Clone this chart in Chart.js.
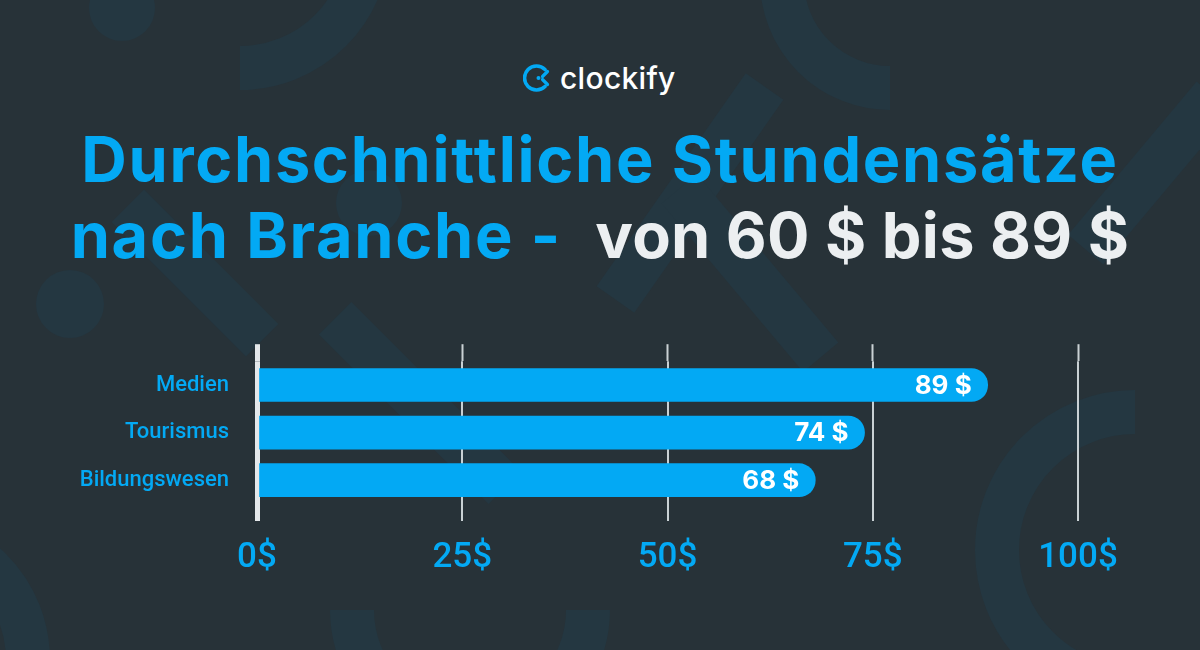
<!DOCTYPE html>
<html lang="de">
<head>
<meta charset="utf-8">
<title>Durchschnittliche Stundensätze nach Branche</title>
<script src="https://cdn.jsdelivr.net/npm/chart.js@4/dist/chart.umd.min.js"></script>
<style>
  html, body { margin: 0; padding: 0; }
  body {
    width: 1200px; height: 650px; overflow: hidden; position: relative;
    background: #273238; font-family: Inter, "Noto Sans", sans-serif;
  }
  .deco { position: absolute; background: #243741; }
  .ring { position: absolute; border: 44px solid #243741; border-radius: 50%; box-sizing: border-box; }
  .logo {
    position: absolute; left: 523px; top: 58px; height: 40px;
    display: flex; align-items: center; gap: 7px;
    color: #ffffff; font-size: 30px; font-weight: 500; letter-spacing: 0.3px;
  }
  .title {
    position: absolute; left: 0; width: 1200px; text-align: center;
    font-weight: 700; font-size: 63px; line-height: 76px; color: #03a9f4;
    top: 121px; letter-spacing: 1.7px;
  }
  .title .light { color: #eceff1; letter-spacing: 0.3px; }
  #wrap { position: absolute; left: 0; top: 320px; width: 1200px; height: 330px; }
</style>
</head>
<body>
<!-- background shapes -->
<div class="deco" style="left:89px;top:-25px;width:66px;height:66px;border-radius:50%"></div>
<div class="ring" style="left:90px;top:-210px;width:300px;height:300px;clip-path:polygon(50% 50%,100% 50%,100% 100%,50% 100%)"></div>
<div class="deco" style="left:36px;top:270px;width:68px;height:68px;border-radius:50%"></div>
<div class="deco" style="left:336px;top:170px;width:66px;height:66px;border-radius:50%"></div>
<div class="deco" style="left:100px;top:250px;width:190px;height:46px;transform:rotate(45deg)"></div>
<div class="deco" style="left:560px;top:170px;width:260px;height:46px;transform:rotate(-55deg)"></div>
<div class="deco" style="left:640px;top:250px;width:220px;height:46px;transform:rotate(50deg)"></div>
<div class="deco" style="left:300px;top:380px;width:240px;height:46px;transform:rotate(45deg)"></div>
<div class="ring" style="left:760px;top:-150px;width:260px;height:260px;clip-path:polygon(0 50%,50% 50%,50% 100%,0 100%)"></div>
<div class="ring" style="left:975px;top:390px;width:320px;height:320px;clip-path:polygon(0 0,50% 0,50% 100%,0 100%)"></div>
<div class="ring" style="left:-250px;top:510px;width:300px;height:300px;clip-path:polygon(50% 0,100% 0,100% 100%,50% 100%)"></div>
<div class="ring" style="left:330px;top:470px;width:280px;height:280px;clip-path:polygon(0 50%,100% 50%,100% 100%,0 100%)"></div>
<div class="deco" style="left:1050px;top:150px;width:200px;height:46px;transform:rotate(-50deg)"></div>

<div class="logo">
  <svg width="30" height="30" viewBox="0 0 30 30">
    <path d="M22 6.5 A12 12 0 1 0 22 23.5" fill="none" stroke="#03a9f4" stroke-width="3.6" stroke-linecap="round"/>
    <circle cx="15.5" cy="15" r="2" fill="#03a9f4"/>
    <path d="M24.5 8.5 L19.5 13.5 M19.5 16.5 L24.5 21.5" fill="none" stroke="#03a9f4" stroke-width="3.2" stroke-linecap="round"/>
  </svg>
  <span>clockify</span>
</div>

<div class="title">Durchschnittliche Stundensätze<br>nach Branche -&nbsp; <span class="light">von 60 $ bis 89 $</span></div>

<div id="wrap"><canvas id="rateChart" width="1200" height="330"></canvas></div>

<script>
const categories = ["Medien", "Tourismus", "Bildungswesen"];
const rates = [89, 74, 68];
const xTicks = [0, 25, 50, 75, 100];

const blue = "#03a9f4";
const gridColor = "rgba(220, 226, 230, 0.9)";
const zeroColor = "#e3e7ea";

// the zero line is the thick axis bar, the rest are thin lines
const gridWidth = (c) => (c.tick && c.tick.value === 0 ? 5 : 2);
const lineColor = (c) => (c.tick && c.tick.value === 0 ? zeroColor : gridColor);

// value text at the end of each bar
const barValues = {
  id: "barValues",
  afterDatasetsDraw(chart) {
    const { ctx } = chart;
    const meta = chart.getDatasetMeta(0);
    ctx.save();
    ctx.fillStyle = "#ffffff";
    ctx.font = "700 26px Inter, sans-serif";
    ctx.textAlign = "right";
    ctx.textBaseline = "middle";
    meta.data.forEach((bar, i) => {
      ctx.fillText(rates[i] + " $", bar.x - 16, bar.y + 1);
    });
    ctx.restore();
  }
};

const ctx = document.getElementById("rateChart").getContext("2d");

new Chart(ctx, {
  type: "bar",
  data: {
    labels: categories,
    datasets: [{
      label: "Stundensatz",
      data: rates,
      backgroundColor: blue,
      borderWidth: 0,
      borderRadius: 17,
      borderSkipped: "start",
      barThickness: 33
    }]
  },
  options: {
    indexAxis: "y",
    responsive: false,
    animation: false,
    layout: { padding: { left: 0, right: 122, top: 23, bottom: 76 } },
    plugins: {
      legend: { display: false },
      tooltip: { enabled: false }
    },
    scales: {
      x: {
        min: 0,
        max: 100,
        afterBuildTicks: (scale) => { scale.ticks = xTicks.map(v => ({ value: v })); },
        afterFit: (scale) => { scale.height = 70; },
        border: { display: false },
        grid: {
          color: lineColor,
          lineWidth: gridWidth,
          drawTicks: true,
          tickLength: 17,
          tickColor: lineColor,
          tickWidth: gridWidth
        },
        ticks: {
          color: blue,
          padding: 16,
          font: { family: "Roboto", size: 35, weight: "500" },
          callback: (v) => v + "$"
        }
      },
      x2: {
        type: "linear",
        position: "top",
        min: 0,
        max: 100,
        afterBuildTicks: (scale) => { scale.ticks = xTicks.map(v => ({ value: v })); },
        border: { display: false },
        grid: {
          drawOnChartArea: false,
          drawTicks: true,
          tickLength: 17,
          tickColor: lineColor,
          tickWidth: gridWidth
        },
        ticks: { display: false }
      },
      y: {
        afterFit: (scale) => { scale.width = 257; },
        border: { display: false },
        grid: { display: false, drawTicks: false },
        ticks: {
          color: blue,
          padding: 28,
          font: { family: "Roboto", size: 22, weight: "500" }
        }
      }
    }
  },
  plugins: [barValues]
});
</script>
</body>
</html>
